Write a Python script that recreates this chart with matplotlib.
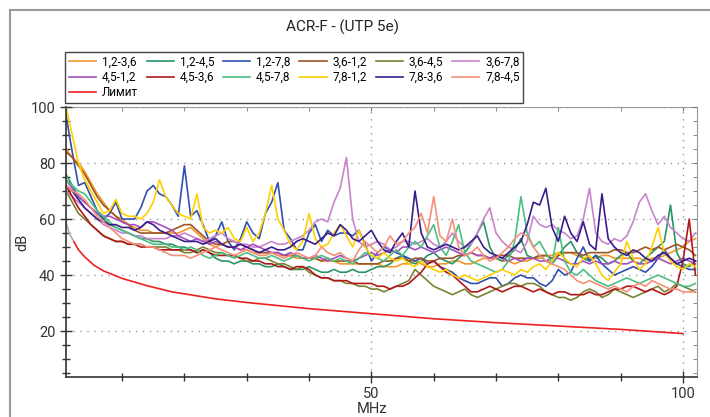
import numpy as np
import matplotlib.pyplot as plt
from matplotlib.lines import Line2D
from matplotlib.ticker import MultipleLocator

plt.rcParams['font.family'] = ['Roboto', 'DejaVu Sans']

# frequency grid (MHz)
freq_mhz = list(range(1, 103))

pair_12_36 = [85, 82, 80, 77, 73, 69, 66, 63, 61, 60,
              58, 57, 56, 56, 55, 55, 55, 55, 55, 56,
              57, 55, 53, 51, 50, 51, 50, 50, 49, 49,
              48, 48, 48, 48, 47, 47, 47, 46, 46, 46,
              46, 45, 45, 45, 44, 44, 44, 44, 44, 44,
              44, 43, 43, 43, 44, 44, 45, 44, 43, 43,
              44, 44, 45, 45, 44, 44, 45, 46, 46, 46,
              45, 45, 44, 45, 45, 46, 46, 47, 47, 48,
              48, 48, 47, 46, 46, 46, 47, 47, 46, 46,
              46, 46, 46, 45, 46, 46, 47, 48, 49, 50,
              52, 53]
pair_12_45 = [76, 72, 68, 66, 64, 62, 60, 58, 57, 56,
              55, 54, 53, 53, 52, 52, 51, 51, 50, 50,
              49, 48, 49, 48, 46, 45, 45, 44, 45, 45,
              44, 44, 43, 43, 44, 43, 42, 42, 42, 43,
              42, 41, 41, 42, 41, 41, 42, 41, 41, 42,
              43, 43, 44, 46, 47, 45, 44, 45, 47, 48,
              46, 45, 44, 46, 48, 51, 55, 59, 50, 46,
              45, 47, 49, 53, 47, 46, 47, 45, 44, 47,
              50, 52, 48, 46, 45, 47, 46, 44, 45, 47,
              48, 45, 44, 46, 48, 50, 52, 65, 48, 44,
              43, 45]
pair_12_78 = [97, 84, 72, 73, 68, 63, 60, 62, 66, 60,
              60, 60, 64, 70, 72, 69, 68, 65, 61, 79,
              61, 63, 58, 52, 54, 59, 52, 49, 53, 59,
              55, 53, 62, 66, 73, 56, 53, 49, 49, 55,
              58, 52, 56, 54, 55, 55, 54, 56, 51, 45,
              48, 50, 49, 48, 47, 46, 45, 46, 44, 45,
              43, 42, 41, 39, 38, 37, 37, 38, 39, 39,
              36, 37, 39, 40, 39, 39, 37, 36, 38, 42,
              40, 41, 46, 50, 45, 47, 44, 42, 40, 41,
              42, 43, 42, 41, 43, 46, 49, 46, 44, 43,
              42, 42]
pair_36_12 = [84, 82, 79, 76, 72, 68, 65, 63, 61, 59,
              58, 56, 55, 55, 55, 55, 55, 56, 57, 58,
              58, 56, 54, 52, 51, 51, 52, 52, 51, 50,
              49, 48, 48, 48, 48, 47, 47, 47, 46, 46,
              46, 45, 46, 45, 45, 45, 45, 44, 44, 44,
              44, 45, 45, 46, 46, 45, 46, 46, 45, 45,
              46, 46, 46, 47, 47, 48, 47, 47, 46, 47,
              47, 47, 46, 46, 46, 46, 47, 47, 46, 47,
              48, 48, 48, 47, 48, 48, 48, 48, 49, 49,
              48, 48, 49, 50, 49, 50, 49, 50, 51, 50,
              49, 47]
pair_36_45 = [70, 66, 62, 60, 58, 56, 54, 53, 52, 52,
              51, 51, 51, 50, 50, 50, 50, 49, 49, 48,
              48, 49, 50, 49, 48, 48, 47, 47, 46, 45,
              45, 46, 46, 45, 44, 44, 43, 42, 43, 41,
              40, 39, 39, 38, 38, 37, 37, 36, 36, 35,
              35, 34, 35, 36, 37, 38, 42, 40, 38, 36,
              35, 34, 33, 34, 35, 33, 32, 33, 34, 35,
              36, 37, 37, 36, 37, 37, 36, 34, 33, 32,
              32, 31, 32, 34, 35, 34, 32, 33, 35, 34,
              33, 32, 33, 34, 35, 36, 34, 35, 37, 36,
              35, 34]
pair_36_78 = [70, 68, 66, 64, 62, 60, 58, 57, 56, 55,
              55, 54, 54, 53, 53, 53, 53, 54, 54, 55,
              54, 53, 52, 53, 54, 55, 53, 52, 51, 51,
              50, 50, 51, 52, 51, 51, 52, 53, 54, 56,
              59, 60, 59, 66, 71, 82, 60, 52, 50, 51,
              52, 51, 49, 50, 52, 52, 51, 52, 53, 51,
              50, 52, 55, 52, 50, 51, 55, 60, 64, 55,
              52, 50, 49, 48, 52, 61, 58, 57, 58, 56,
              55, 53, 54, 60, 71, 55, 52, 51, 53, 52,
              54, 59, 66, 69, 63, 58, 61, 57, 55, 53,
              52, 55]
pair_45_12 = [74, 71, 68, 66, 64, 62, 61, 61, 60, 59,
              58, 58, 57, 59, 59, 58, 57, 56, 54, 53,
              52, 53, 52, 51, 52, 51, 50, 50, 49, 50,
              51, 50, 49, 48, 48, 47, 48, 47, 46, 46,
              47, 46, 45, 46, 47, 46, 45, 46, 47, 48,
              47, 48, 49, 48, 50, 50, 49, 50, 49, 48,
              49, 50, 49, 48, 47, 48, 47, 47, 46, 47,
              46, 45, 46, 45, 46, 46, 45, 45, 46, 46,
              45, 44, 44, 45, 44, 45, 44, 44, 45, 44,
              44, 45, 44, 44, 45, 46, 45, 44, 45, 46,
              45, 44]
pair_45_36 = [72, 68, 64, 61, 58, 56, 54, 53, 52, 52,
              51, 51, 50, 50, 50, 49, 49, 49, 49, 49,
              49, 48, 49, 48, 47, 47, 47, 47, 46, 46,
              45, 45, 44, 44, 43, 43, 42, 43, 43, 42,
              40, 39, 39, 38, 38, 38, 37, 37, 37, 37,
              36, 36, 35, 36, 36, 37, 39, 41, 44, 45,
              43, 41, 40, 38, 36, 34, 34, 35, 36, 35,
              34, 35, 36, 36, 35, 34, 35, 34, 33, 34,
              34, 33, 33, 33, 34, 33, 33, 34, 35, 35,
              36, 36, 35, 34, 35, 34, 33, 34, 36, 45,
              60, 40]
pair_45_78 = [74, 72, 70, 69, 66, 63, 61, 59, 57, 56,
              55, 54, 53, 52, 51, 51, 51, 50, 50, 49,
              50, 49, 47, 46, 47, 48, 47, 46, 47, 48,
              47, 46, 46, 47, 46, 45, 46, 47, 46, 45,
              46, 47, 46, 45, 46, 45, 44, 46, 48, 47,
              46, 45, 47, 49, 47, 50, 52, 50, 54, 58,
              50, 47, 52, 58, 48, 45, 44, 43, 42, 41,
              42, 45, 52, 68, 55, 50, 52, 48, 44, 57,
              45, 41, 40, 42, 40, 38, 37, 36, 37, 38,
              39, 38, 37, 38, 39, 40, 39, 38, 37, 36,
              36, 37]
pair_78_12 = [100, 90, 80, 74, 70, 66, 62, 63, 67, 62,
              61, 61, 60, 62, 66, 74, 68, 65, 62, 61,
              60, 69, 57, 55, 56, 55, 57, 53, 52, 57,
              52, 55, 62, 72, 60, 56, 51, 49, 52, 62,
              53, 50, 51, 55, 58, 54, 50, 56, 50, 47,
              46, 48, 46, 45, 46, 44, 43, 45, 43, 42,
              41, 42, 40, 39, 40, 39, 38, 39, 40, 41,
              42, 41, 40, 42, 41, 43, 44, 42, 45, 48,
              46, 44, 43, 46, 47, 44, 40, 38, 41, 44,
              52, 46, 42, 44, 50, 57, 48, 45, 43, 42,
              44, 43]
pair_78_36 = [72, 70, 67, 64, 62, 60, 59, 58, 58, 57,
              57, 56, 57, 59, 58, 56, 55, 54, 53, 52,
              52, 52, 51, 52, 53, 51, 50, 50, 51, 50,
              49, 48, 49, 50, 49, 49, 50, 52, 53, 52,
              51, 53, 55, 54, 58, 56, 53, 52, 54, 56,
              52, 49, 48, 52, 55, 50, 70, 55, 50, 49,
              50, 51, 50, 49, 50, 52, 54, 50, 48, 47,
              46, 48, 50, 52, 58, 66, 65, 71, 57, 52,
              61, 55, 52, 59, 51, 49, 69, 53, 50, 48,
              47, 49, 48, 46, 45, 47, 48, 46, 44, 45,
              46, 45]
pair_78_45 = [72, 70, 69, 67, 64, 61, 59, 57, 55, 53,
              52, 51, 51, 50, 50, 49, 48, 47, 47, 47,
              46, 47, 48, 49, 50, 49, 48, 47, 48, 49,
              48, 47, 47, 48, 47, 46, 47, 48, 47, 46,
              47, 50, 48, 47, 48, 46, 45, 49, 52, 50,
              48, 50, 54, 51, 52, 55, 57, 62, 55, 68,
              54, 52, 60, 50, 47, 48, 50, 47, 45, 46,
              48, 50, 53, 55, 54, 50, 47, 45, 44, 43,
              42, 40, 38, 37, 38, 37, 36, 35, 36, 35,
              34, 36, 37, 36, 38, 37, 36, 35, 35, 34,
              34, 34]

limit_f = [1, 1.5, 2.3, 3, 4, 5.5, 7, 10, 14, 18, 25, 30, 40, 50, 60, 70, 80, 90, 100]
limit_db = [59, 55, 51.8, 49, 46.5, 43.5, 41.5, 38.8, 36.2, 34, 31.5, 30.2, 28, 26.2,
            24.4, 23, 21.8, 20.6, 19.1]

pair_labels = ['1,2-3,6', '1,2-4,5', '1,2-7,8', '3,6-1,2', '3,6-4,5', '3,6-7,8',
               '4,5-1,2', '4,5-3,6', '4,5-7,8', '7,8-1,2', '7,8-3,6', '7,8-4,5']
pair_values = [pair_12_36, pair_12_45, pair_12_78, pair_36_12, pair_36_45, pair_36_78,
               pair_45_12, pair_45_36, pair_45_78, pair_78_12, pair_78_36, pair_78_45]
pair_colors = ['#F5962A', '#2A9465', '#3050B0', '#9C5524', '#7B8232', '#C884CE',
               '#A64FC0', '#B01818', '#4CC082', '#FFD000', '#3A1C8C', '#F4907A']


def main():
    fig = plt.figure(figsize=(7.1, 4.17), dpi=100)
    ax = fig.add_axes([66 / 710, 1 - 377 / 417, (697 - 66) / 710, (377 - 107) / 417])

    for label, vals, color in zip(pair_labels, pair_values, pair_colors):
        ax.plot(freq_mhz, vals, color=color, linewidth=1.2, label=label)

    # limit line (start drawn grey as in the original)
    ax.plot(limit_f[:3], limit_db[:3], color='#aaaaaa', linewidth=1.2)
    ax.plot(limit_f[2:], limit_db[2:], color='#EE2020', linewidth=1.2, label='Лимит')

    ax.set_xlim(1, 102.25)
    ax.set_ylim(3.6, 100)
    ax.set_xticks([50, 100])
    ax.xaxis.set_minor_locator(MultipleLocator(10))
    ax.yaxis.set_major_locator(MultipleLocator(20))
    ax.yaxis.set_minor_locator(MultipleLocator(5))
    ax.grid(True, which='major', linestyle=(0, (1, 4)), color='#999999', linewidth=1)

    ax.tick_params(which='major', direction='inout', length=8, width=1, color='#333333',
                   labelsize=10.5, labelcolor='#333333')
    ax.tick_params(which='minor', direction='inout', length=6, width=1, color='#333333')
    for side in ['left', 'bottom']:
        ax.spines[side].set_color('#333333')
        ax.spines[side].set_linewidth(1.2)
    for side in ['top', 'right']:
        ax.spines[side].set_visible(False)

    # top and right: light frame with inward ticks
    top = ax.secondary_xaxis('top')
    top.set_xticks([50, 100])
    top.xaxis.set_minor_locator(MultipleLocator(10))
    top.tick_params(which='both', direction='in', length=3, color='#777777', labeltop=False)
    top.spines['top'].set_color('#999999')
    right = ax.secondary_yaxis('right')
    right.yaxis.set_major_locator(MultipleLocator(20))
    right.yaxis.set_minor_locator(MultipleLocator(5))
    right.tick_params(which='both', direction='in', length=3, color='#777777', labelright=False)
    right.spines['right'].set_color('#999999')

    fig.text(343 / 710, 1 - 27 / 417, 'ACR-F - (UTP 5e)', ha='center', va='center',
             fontsize=11, color='#222222')
    fig.text(22 / 710, 1 - 242 / 417, 'dB', rotation=90, ha='center', va='center',
             fontsize=10.5, color='#333333')
    fig.text(372 / 710, 1 - 409 / 417, 'MHz', ha='center', va='center',
             fontsize=10.5, color='#333333')

    # legend filled row by row (matplotlib fills columns, so reorder)
    handles, labels = ax.get_legend_handles_labels()
    ncol = 6
    order = []
    for c in range(ncol):
        order += list(range(c, len(handles), ncol))
    leg = ax.legend([handles[i] for i in order], [labels[i] for i in order],
                    loc='upper left', bbox_to_anchor=(65 / 710, 1 - 52 / 417),
                    bbox_transform=fig.transFigure, borderaxespad=0, ncol=ncol,
                    fontsize=8.5, handlelength=2.3, handletextpad=0.5, columnspacing=0.75,
                    labelspacing=0.2, borderpad=0.3, fancybox=False, framealpha=1)
    leg.get_frame().set_edgecolor('#444444')
    leg.get_frame().set_linewidth(1)

    # outer frame
    fig.add_artist(Line2D([10 / 710, 1], [1 - 10 / 417] * 2, transform=fig.transFigure,
                          color='#999999', linewidth=1.5))
    fig.add_artist(Line2D([10 / 710] * 2, [0, 1 - 10 / 417], transform=fig.transFigure,
                          color='#999999', linewidth=1.5))

    fig.savefig('out.png', dpi=100)


if __name__ == '__main__':
    main()
